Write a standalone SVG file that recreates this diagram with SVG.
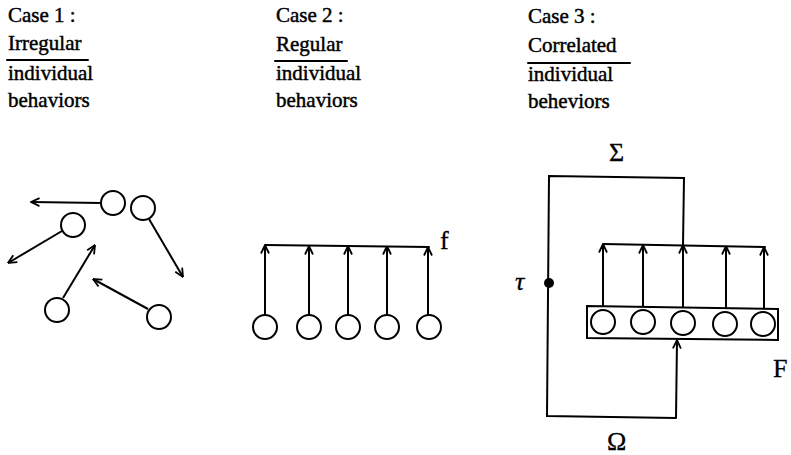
<svg xmlns="http://www.w3.org/2000/svg" width="791" height="455" viewBox="0 0 791 455">
  <style>
    .lbl { font-family: "Liberation Serif", "Times New Roman", serif; font-size: 21px; fill: #000; stroke: #000; stroke-width: 0.45; }
    .sym { font-family: "Liberation Serif", "DejaVu Serif", serif; font-size: 26px; fill: #000; stroke: #000; stroke-width: 0.3; }
    .ln { fill: none; stroke: #000; stroke-width: 2; stroke-linecap: round; stroke-linejoin: miter; }
    .arr { fill: none; stroke: #000; stroke-width: 2; marker-end: url(#head); }
    .node { fill: #fff; stroke: #000; stroke-width: 2; }
  </style>
  <defs>
    <marker id="head" viewBox="0 0 10 10" refX="9.5" refY="5" markerWidth="10" markerHeight="10" markerUnits="userSpaceOnUse" orient="auto">
      <path d="M1,1 L9.5,5 L1,9" fill="none" stroke="#000" stroke-width="1.8"/>
    </marker>
  </defs>
  <rect width="791" height="455" fill="#fff"/>

  <!-- column headings -->
  <g id="heading-case1">
    <text class="lbl" x="8" y="22">Case 1 :</text>
    <text class="lbl" x="8" y="50">Irregular</text>
    <line class="ln" x1="7" y1="60" x2="88" y2="60"/>
    <text class="lbl" x="8" y="80">individual</text>
    <text class="lbl" x="8" y="107">behaviors</text>
  </g>
  <g id="heading-case2">
    <text class="lbl" x="276" y="22">Case 2 :</text>
    <text class="lbl" x="276" y="51">Regular</text>
    <line class="ln" x1="275" y1="61" x2="347" y2="61"/>
    <text class="lbl" x="276" y="80">individual</text>
    <text class="lbl" x="276" y="107">behaviors</text>
  </g>
  <g id="heading-case3">
    <text class="lbl" x="528" y="23">Case 3 :</text>
    <text class="lbl" x="528" y="52">Correlated</text>
    <line class="ln" x1="528" y1="63" x2="630" y2="63"/>
    <text class="lbl" x="528" y="81">individual</text>
    <text class="lbl" x="528" y="108">beheviors</text>
  </g>

  <!-- connectors -->
  <g id="connectors">
    <!-- case 1: scattered motions -->
    <line class="arr" x1="101" y1="203" x2="31" y2="202"/>
    <line class="arr" x1="62" y1="231" x2="8" y2="263"/>
    <line class="arr" x1="149" y1="219" x2="183" y2="277"/>
    <line class="arr" x1="63" y1="298" x2="95" y2="245"/>
    <line class="arr" x1="148" y1="309" x2="93" y2="279"/>

    <!-- case 2: parallel lines joined into f -->
    <line class="ln" x1="265" y1="245" x2="429" y2="247"/>
    <line class="arr" x1="265" y1="315" x2="265" y2="245"/>
    <line class="arr" x1="309" y1="315" x2="309" y2="246"/>
    <line class="arr" x1="348" y1="315" x2="348" y2="246"/>
    <line class="arr" x1="387" y1="315" x2="387" y2="246"/>
    <line class="arr" x1="428" y1="315" x2="428" y2="247"/>

    <!-- case 3: summed output fed back to the field -->
    <line class="ln" x1="603" y1="244" x2="765" y2="247"/>
    <line class="arr" x1="603" y1="306" x2="603" y2="244"/>
    <line class="arr" x1="643" y1="307" x2="643" y2="245"/>
    <line class="arr" x1="683" y1="307" x2="683" y2="245"/>
    <line class="arr" x1="726" y1="308" x2="726" y2="246"/>
    <line class="arr" x1="764" y1="309" x2="764" y2="247"/>
    <polyline class="ln" points="683,245 684,178 549,176 547,416 676,418"/>
    <line class="arr" x1="676" y1="418" x2="677" y2="340"/>
  </g>

  <!-- case 1 elements -->
  <g id="c1-n1"><circle class="node" cx="113" cy="203" r="12"/></g>
  <g id="c1-n2"><circle class="node" cx="143" cy="208" r="12"/></g>
  <g id="c1-n3"><circle class="node" cx="73" cy="225" r="12"/></g>
  <g id="c1-n4"><circle class="node" cx="57" cy="310" r="12"/></g>
  <g id="c1-n5"><circle class="node" cx="159" cy="317" r="12"/></g>

  <!-- case 2 elements -->
  <g id="c2-n1"><circle class="node" cx="265" cy="327" r="12"/></g>
  <g id="c2-n2"><circle class="node" cx="309" cy="327" r="12"/></g>
  <g id="c2-n3"><circle class="node" cx="348" cy="327" r="12"/></g>
  <g id="c2-n4"><circle class="node" cx="387" cy="327" r="12"/></g>
  <g id="c2-n5"><circle class="node" cx="429" cy="327" r="12"/></g>
  <g id="c2-f"><text class="sym" x="440" y="249">f</text></g>

  <!-- case 3 elements -->
  <g id="c3-field">
    <polygon class="node" points="587,306 778,309 778,340 587,338"/>
    <circle class="node" cx="603" cy="322" r="12"/>
    <circle class="node" cx="643" cy="322" r="12"/>
    <circle class="node" cx="683" cy="323" r="12"/>
    <circle class="node" cx="725" cy="324" r="12"/>
    <circle class="node" cx="763" cy="324" r="12"/>
  </g>
  <g id="c3-F"><text class="sym" x="773" y="377" font-size="24">F</text></g>
  <g id="c3-sigma"><text class="sym" x="609" y="161">Σ</text></g>
  <g id="c3-omega"><text class="sym" x="607" y="450" font-size="24">Ω</text></g>
  <g id="c3-tau">
    <circle cx="549" cy="283" r="5" fill="#000"/>
    <text class="sym" x="515" y="290" font-style="italic">τ</text>
  </g>
</svg>
